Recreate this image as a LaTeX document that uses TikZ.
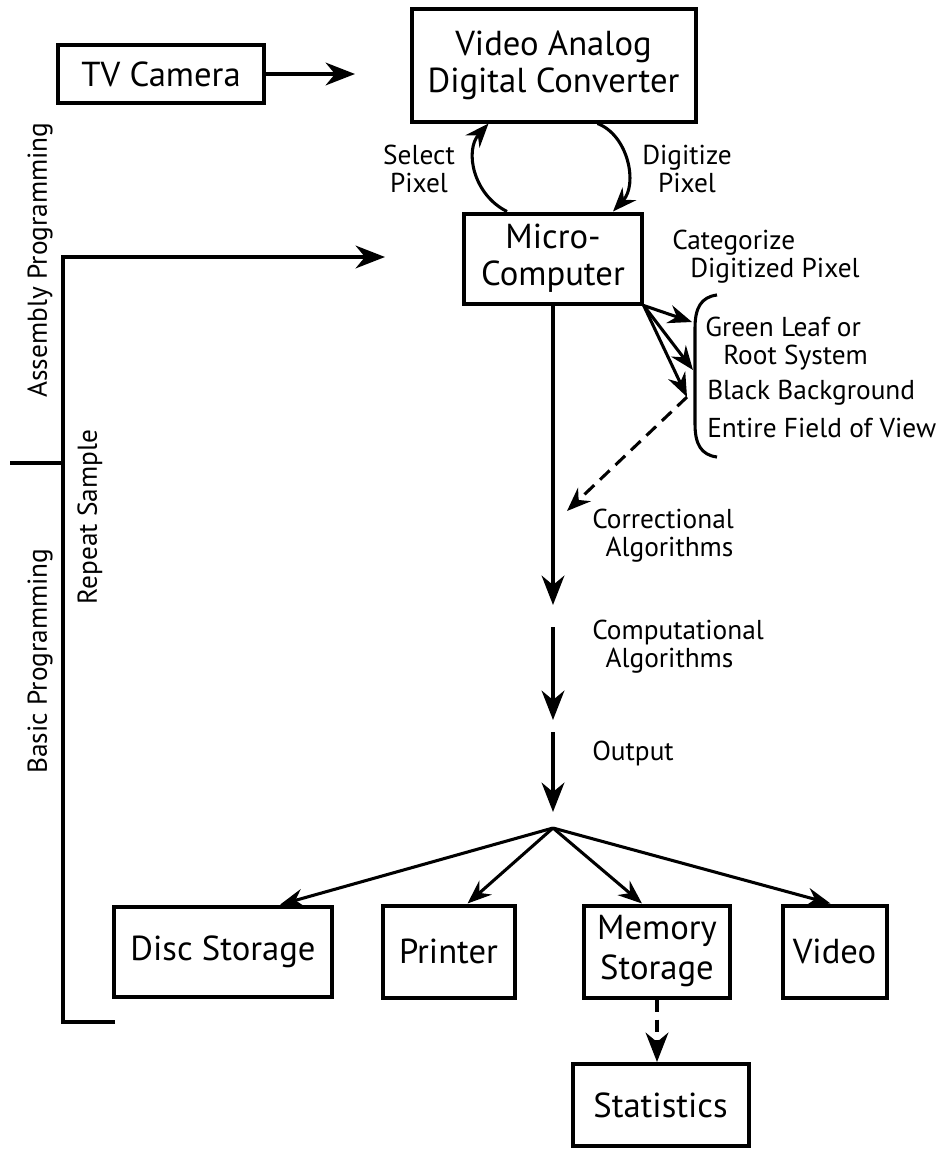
\documentclass[tikz,border=0pt]{standalone}
\usepackage{fontspec}
\setmainfont{PT Sans}
\usetikzlibrary{arrows.meta,calc}
\newcommand{\boxfont}{\fontsize{26}{28}\selectfont}
\newcommand{\lblfont}{\fontsize{20.5}{21}\selectfont}
\begin{document}
\begin{tikzpicture}[x=0.75pt, y=-0.75pt,
  >={Stealth[length=22pt, width=17pt, inset=7pt]},
  box/.style={draw, line width=3pt, align=center, inner sep=0pt, font=\boxfont},
  lbl/.style={align=center, inner sep=0pt, font=\lblfont},
  link/.style={line width=3pt},
  fan/.style={line width=2.3pt, >={Stealth[length=18pt, width=14pt, inset=6pt]}}]
  \useasboundingbox (0,0) rectangle (936,1156);
  \node[box, minimum width=154pt, minimum height=44pt] (cam) at (161,74) {TV Camera};
  \node[box, minimum width=213pt, minimum height=84pt] (vadc) at (553.5,65.5) {Video Analog\\Digital Converter};
  \node[box, minimum width=133pt, minimum height=67.5pt] (micro) at (553,258.5) {Micro-\\Computer};
  \node[box, minimum width=163pt, minimum height=68pt] (disc) at (223,952) {Disc Storage};
  \node[box, minimum width=99pt, minimum height=69pt] (printer) at (448.5,951.5) {Printer};
  \node[box, minimum width=110pt, minimum height=69pt] (memory) at (657,951.5) {Memory\\[2pt]Storage};
  \node[box, minimum width=78pt, minimum height=69pt] (video) at (834.5,951.5) {Video};
  \node[box, minimum width=132pt, minimum height=61.5pt] (stats) at (660.5,1105) {Statistics};
  \node[lbl] (select) at (419,169) {Select\\Pixel};
  \node[lbl] (digitize) at (687,169) {Digitize\\Pixel};
  \node[lbl, align=left, anchor=west] (categorize) at (672,257) {Categorize\\\hspace*{13.5pt}Digitized Pixel};
  \node[lbl, align=left, anchor=west] (leaf) at (705,344) {Green Leaf or\\\hspace*{13.5pt}Root System};
  \node[lbl, anchor=west] (background) at (707,393) {Black Background};
  \node[lbl, anchor=west] (field) at (707,428) {Entire Field of View};
  \node[lbl, align=left, anchor=west] (correct) at (592,536) {Correctional\\\hspace*{10pt}Algorithms};
  \node[lbl, align=left, anchor=west] (compute) at (592,647) {Computational\\\hspace*{10pt}Algorithms};
  \node[lbl, anchor=west] (output) at (592,753) {Output};
  \node[lbl, rotate=90] (assembly) at (40,260) {Assembly Programming};
  \node[lbl, rotate=90] (basic) at (40,661) {Basic Programming};
  \node[lbl, rotate=90] (repeat) at (90,517) {Repeat Sample};
  \coordinate (camtip) at (355,74);
  \coordinate (looptip) at (385,257);
  \coordinate (looptop) at (63,257);
  \coordinate (loopbot) at (63,1022);
  \coordinate (loopend) at (115,1022);
  \coordinate (split) at (10,463);
  \coordinate (leafA) at (692,322);
  \coordinate (leafB) at (693,370);
  \coordinate (leafC) at (687,397);
  \coordinate (corrtip) at (567,511);
  \coordinate (corrend) at (553,605);
  \coordinate (compstart) at (553,627);
  \coordinate (compend) at (553,720);
  \coordinate (outstart) at (553,732);
  \coordinate (outend) at (553,812);
  \coordinate (fork) at (553,828);
  \draw[link, ->] (cam.east) -- (camtip);
  \draw[fan, ->] ($(micro.north)+(-46,0)$) .. controls +(-34,-17) and +(-24,27) .. ($(vadc.south)+(-65,0)$);
  \draw[fan, ->] ($(vadc.south)+(44,0)$) .. controls +(31,12) and +(25,-27) .. ($(micro.north)+(60,0)$);
  \draw[link, ->] (loopend) -- (loopbot) -- (looptop) -- (looptip);
  \draw[link] (split) -- (looptop |- split);
  \foreach \t in {leafA,leafB,leafC}
    \draw[fan, ->] (micro.south east) -- (\t);
  \draw[fan] (717,295) .. controls (701,297) and (695,308) .. (695,328) -- (695,424) .. controls (695,444) and (701,455) .. (717,457);
  \draw[fan, dash pattern=on 10pt off 6pt, ->] (leafC) -- (corrtip);
  \draw[link, ->] (micro.south) -- (corrend);
  \draw[link, ->] (compstart) -- (compend);
  \draw[link, ->] (outstart) -- (outend);
  \foreach \b/\dx in {disc/57, printer/19, memory/-15, video/-4}
    \draw[fan, ->] (fork) -- ($(\b.north)+(\dx,0)$);
  \draw[link, dash pattern=on 9pt off 6pt, ->] (memory.south) -- (memory.south |- stats.north);
\end{tikzpicture}
\end{document}
